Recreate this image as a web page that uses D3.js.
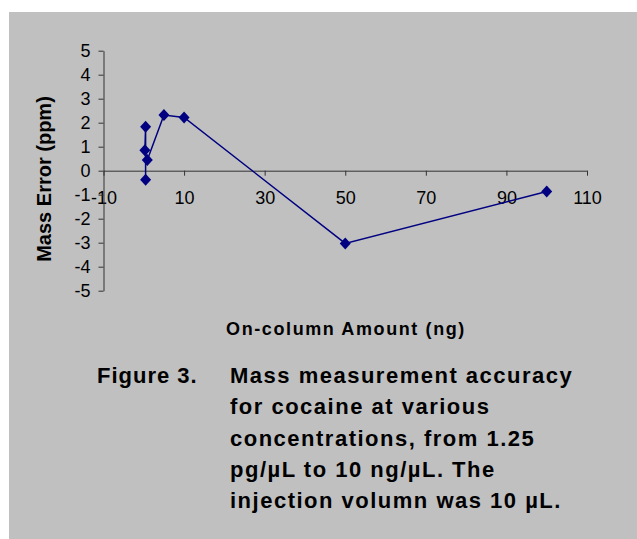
<!DOCTYPE html>
<html>
<head>
<meta charset="utf-8">
<script src="https://cdn.jsdelivr.net/npm/d3@7"></script>
<style>
  body { margin: 0; background: #fff; }
  text { font-family: Arial, "Liberation Sans", sans-serif; }
</style>
</head>
<body>
<svg id="chart" width="637" height="539"></svg>
<script>
// data
const amountNg = [0.45, 0.45, 0.27, 0.87, 5, 10, 50, 100];
const massErrorPpm = [-0.38, 1.83, 0.85, 0.45, 2.32, 2.22, -3.03, -0.87];
const xTicks = [-10, 10, 30, 50, 70, 90, 110];
const yTicks = [-5, -4, -3, -2, -1, 0, 1, 2, 3, 4, 5];
const captionLines = [
	"Mass measurement accuracy",
	"for cocaine at various",
	"concentrations, from 1.25",
	"pg/\u00b5L to 10 ng/\u00b5L. The",
	"injection volumn was 10 \u00b5L."
];

const svg = d3.select("#chart");
const NAVY = "#000080";
const AXIS_COLOR = "#333";

// gray panel
svg.append("rect")
	.attr("x", 9).attr("y", 12)
	.attr("width", 628).attr("height", 527)
	.attr("fill", "#c0c0c0");

const xScale = d3.scaleLinear().domain([-10, 110]).range([103.5, 587]);
const yScale = d3.scaleLinear().domain([-5, 5]).range([290.7, 50.7]);

// plain hyphen for negatives, like the original
const plain = d => String(d);

// x axis crosses at y = 0
const xAxis = svg.append("g")
	.attr("transform", "translate(0," + yScale(0) + ")")
	.call(d3.axisBottom(xScale).tickValues(xTicks).tickFormat(plain)
		.tickSize(5).tickSizeOuter(0).tickPadding(16));

const yAxis = svg.append("g")
	.attr("transform", "translate(" + xScale(-10) + ",0)")
	.call(d3.axisLeft(yScale).tickValues(yTicks).tickFormat(plain)
		.tickSize(5).tickSizeOuter(0).tickPadding(8));

[xAxis, yAxis].forEach(function (ax) {
	ax.select(".domain").attr("stroke", AXIS_COLOR);
	ax.selectAll(".tick line").attr("stroke", AXIS_COLOR);
	ax.selectAll(".tick text")
		.attr("fill", "#000")
		.attr("font-size", "18px")
		.attr("font-family", "Arial, 'Liberation Sans', sans-serif");
});

// series line + diamonds
const pts = amountNg.map((x, i) => ({ x: x, y: massErrorPpm[i] }));

svg.append("path")
	.datum(pts)
	.attr("fill", "none")
	.attr("stroke", NAVY)
	.attr("stroke-width", 1.5)
	.attr("d", d3.line().x(d => xScale(d.x)).y(d => yScale(d.y)));

svg.selectAll(".pt")
	.data(pts)
	.enter().append("path")
	.attr("class", "pt")
	.attr("transform", d => "translate(" + xScale(d.x) + "," + yScale(d.y) + ")")
	.attr("d", "M0,-6L5.5,0L0,6L-5.5,0Z")
	.attr("fill", NAVY);

// axis titles
svg.append("text")
	.attr("transform", "translate(51,179) rotate(-90)")
	.attr("text-anchor", "middle")
	.attr("font-size", "20px")
	.attr("font-weight", "bold")
	.text("Mass Error (ppm)");

svg.append("text")
	.attr("x", 346)
	.attr("y", 335)
	.attr("text-anchor", "middle")
	.attr("font-size", "18px")
	.attr("font-weight", "bold")
	.attr("letter-spacing", "1.6px")
	.text("On-column Amount (ng)");

// caption
svg.append("text")
	.attr("x", 97)
	.attr("y", 383)
	.attr("font-size", "22px")
	.attr("font-weight", "bold")
	.attr("letter-spacing", "1px")
	.text("Figure 3.");

svg.selectAll(".cap")
	.data(captionLines)
	.enter().append("text")
	.attr("class", "cap")
	.attr("x", 230)
	.attr("y", (d, i) => 383 + i * 31.3)
	.attr("font-size", "22px")
	.attr("font-weight", "bold")
	.attr("letter-spacing", "1.5px")
	.text(d => d);
</script>
</body>
</html>
